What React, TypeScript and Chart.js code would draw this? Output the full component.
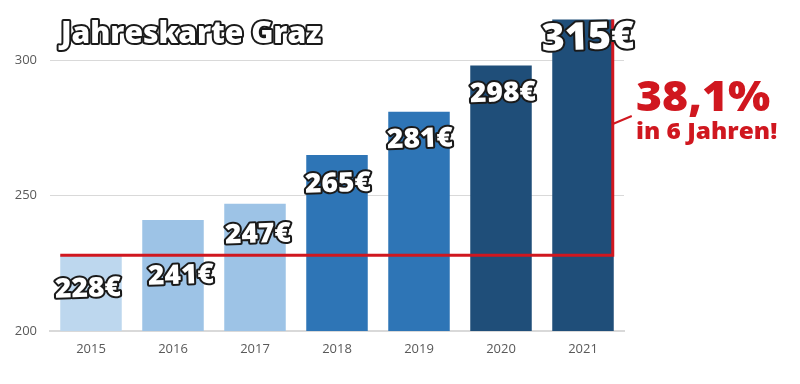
import React, { useEffect, useRef } from "react";
import { Chart, registerables } from "chart.js";

Chart.register(...registerables);

const years = ["2015", "2016", "2017", "2018", "2019", "2020", "2021"];
const prices = [228, 241, 247, 265, 281, 298, 315];
const barColors = ["#BDD7EE", "#9DC3E6", "#9DC3E6", "#2E75B6", "#2E75B6", "#1F4E79", "#1F4E79"];
const yTicks = [200, 250, 300];
const titleText = "Jahreskarte Graz";
const growthText = "38,1%";
const growthSub = "in 6 Jahren!";

// label placement tweaks (dx, dy from bar top to label center)
const labelOffsets = [
  [-3, 33],
  [8, 55],
  [3, 30],
  [1, 28],
  [1, 27],
  [2, 27],
  [5, 18],
];

const RED = "#D0171F";

function outlined(ctx: any, text: string, x: number, y: number, sx: number) {
  ctx.save();
  ctx.translate(x, y);
  ctx.scale(sx, 1);
  ctx.lineJoin = "round";
  ctx.lineWidth = 4;
  ctx.strokeStyle = "#1a1a1a";
  ctx.strokeText(text, 0, 0);
  ctx.fillStyle = "#ffffff";
  ctx.fillText(text, 0, 0);
  ctx.restore();
}

const overlayPlugin = {
  id: "overlay",
  afterDatasetsDraw(chart: any) {
    const ctx = chart.ctx;
    const meta = chart.getDatasetMeta(0);
    const y = chart.scales.y;
    const bars = meta.data;
    const first = bars[0];
    const last = bars[bars.length - 1];
    const baseY = y.getPixelForValue(prices[0]);
    const topY = y.getPixelForValue(prices[prices.length - 1]);
    const firstLeft = first.x - first.width / 2;
    const lastRight = last.x + last.width / 2 - 1;

    // red bracket
    ctx.save();
    ctx.strokeStyle = RED;
    ctx.lineWidth = 3;
    ctx.lineJoin = "miter";
    ctx.beginPath();
    ctx.moveTo(firstLeft, baseY);
    ctx.lineTo(lastRight, baseY);
    ctx.lineTo(lastRight, topY);
    ctx.stroke();
    ctx.lineWidth = 2;
    ctx.beginPath();
    ctx.moveTo(lastRight, 124);
    ctx.lineTo(lastRight + 19, 116);
    ctx.stroke();

    ctx.fillStyle = RED;
    ctx.textAlign = "left";
    ctx.textBaseline = "alphabetic";
    ctx.save();
    ctx.translate(636, 111);
    ctx.scale(1.035, 1);
    ctx.font = "800 43px 'Open Sans'";
    ctx.fillText(growthText, 0, 0);
    ctx.restore();
    ctx.save();
    ctx.translate(636, 139);
    ctx.scale(1.06, 1);
    ctx.font = "800 23px 'Open Sans'";
    ctx.fillText(growthSub, 0, 0);
    ctx.restore();
    ctx.restore();

    // value labels
    bars.forEach((bar: any, i: number) => {
      const [dx, dy] = labelOffsets[i];
      const big = i === bars.length - 1;
      ctx.save();
      ctx.translate(bar.x + dx, bar.y + dy);
      ctx.rotate(-0.03);
      ctx.font = big ? "800 38px 'Open Sans'" : "800 27px 'Open Sans'";
      ctx.textAlign = "center";
      ctx.textBaseline = "middle";
      outlined(ctx, prices[i] + "€", 0, 1, 1.04);
      ctx.restore();
    });

    // title
    ctx.save();
    ctx.font = "800 30px 'Open Sans'";
    ctx.textAlign = "left";
    ctx.textBaseline = "alphabetic";
    outlined(ctx, titleText, 61, 43, 1.0);
    ctx.restore();
  },
};

export default function App() {
  const ref = useRef<HTMLCanvasElement>(null);
  useEffect(() => {
    if (!ref.current) return;
    const chart = new Chart(ref.current, {
      type: "bar",
      data: {
        labels: years,
        datasets: [
          {
            data: prices,
            backgroundColor: barColors,
            barPercentage: 0.75,
            categoryPercentage: 1,
          },
        ],
      },
      options: {
        animation: false,
        responsive: false,
        maintainAspectRatio: false,
        layout: { padding: { top: 6, right: 176, left: 0, bottom: 0 } },
        plugins: { legend: { display: false }, tooltip: { enabled: false } },
        scales: {
          x: {
            grid: { display: false, drawTicks: false },
            border: { color: "#D9D9D9", width: 2 },
            ticks: { color: "#595959", font: { family: "'Open Sans'", size: 13 }, padding: 10 },
            afterFit: (s: any) => {
              s.height = 53;
            },
          },
          y: {
            min: 200,
            max: 320,
            grid: { color: "#D9D9D9", drawTicks: false },
            border: { display: false },
            ticks: { color: "#595959", font: { family: "'Open Sans'", size: 13 }, padding: 13 },
            afterBuildTicks: (s: any) => {
              s.ticks = yTicks.map((v) => ({ value: v }));
            },
            afterFit: (s: any) => {
              s.width = 50;
              s.paddingTop = 0;
              s.paddingBottom = 0;
            },
          },
        },
      },
      plugins: [overlayPlugin],
    });
    return () => chart.destroy();
  }, []);
  return (
    <div style={{ position: "fixed", left: 0, top: 0, width: 800, height: 384, background: "#fff" }}>
      <canvas ref={ref} width={800} height={384} style={{ width: 800, height: 384 }} />
    </div>
  );
}
